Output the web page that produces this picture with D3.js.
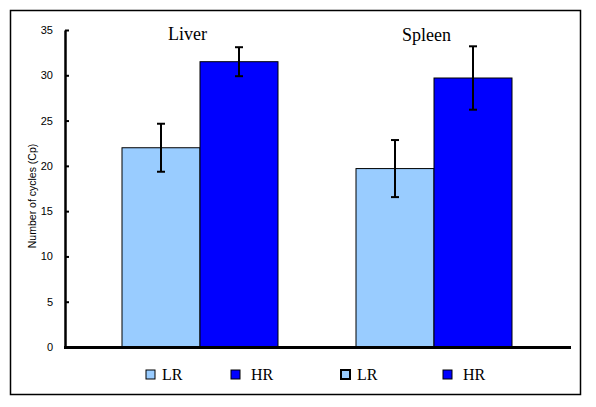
<!DOCTYPE html>
<html><head><meta charset="utf-8">
<script src="https://cdn.jsdelivr.net/npm/d3@7"></script>
<style>body{margin:0;background:#fff}svg{display:block}</style>
</head><body>
<svg id="c" width="596" height="407"></svg>
<script>
const groups = ["Liver", "Spleen"];
const series = ["LR", "HR"];
const lrValues = [22.0, 19.7];
const hrValues = [31.5, 29.7];
const lrErrors = [2.65, 3.15];
const hrErrors = [1.6, 3.5];
const yTicks = [0, 5, 10, 15, 20, 25, 30, 35];
const colors = {LR: "#99CCFF", HR: "#0000FF"};

(function () {
const svg = d3.select("#c");
// outer frame
svg.append("rect").attr("x", 10.5).attr("y", 10.5).attr("width", 570).attr("height", 384)
  .attr("fill", "none").attr("stroke", "#000").attr("stroke-width", 1.5);

const pLeft = 65, pRight = 571, pTop = 30, pBottom = 347;
const y = d3.scaleLinear().domain([0, 35]).range([pBottom, pTop]);
const xg = d3.scalePoint().domain(groups).range([200, 434]);
const barW = 78;
const x1 = d3.scaleBand().domain(series).range([-barW, barW]);

const data = groups.map((g, i) => ({
  group: g,
  bars: [
    {s: "LR", v: lrValues[i], e: lrErrors[i]},
    {s: "HR", v: hrValues[i], e: hrErrors[i]}
  ]
}));

const gg = svg.selectAll("g.grp").data(data).join("g").attr("class", "grp")
  .attr("transform", d => `translate(${xg(d.group)},0)`);

gg.selectAll("rect").data(d => d.bars).join("rect")
  .attr("x", d => x1(d.s)).attr("width", x1.bandwidth())
  .attr("y", d => y(d.v)).attr("height", d => y(0) - y(d.v))
  .attr("fill", d => colors[d.s]).attr("stroke", "#000").attr("stroke-width", 1);

const eb = gg.selectAll("g.eb").data(d => d.bars).join("g").attr("class", "eb")
  .attr("transform", d => `translate(${x1(d.s) + x1.bandwidth() / 2},0)`);
eb.append("line").attr("y1", d => y(d.v + d.e)).attr("y2", d => y(d.v - d.e))
  .attr("stroke", "#000").attr("stroke-width", 2);
eb.append("line").attr("x1", -4).attr("x2", 4).attr("y1", d => y(d.v + d.e)).attr("y2", d => y(d.v + d.e))
  .attr("stroke", "#000").attr("stroke-width", 2);
eb.append("line").attr("x1", -4).attr("x2", 4).attr("y1", d => y(d.v - d.e)).attr("y2", d => y(d.v - d.e))
  .attr("stroke", "#000").attr("stroke-width", 2);

gg.append("text").attr("x", -32).attr("y", (d, i) => i === 0 ? 40 : 41).attr("text-anchor", "start")
  .attr("font-family", "Liberation Serif, Times New Roman, serif").attr("font-size", 18)
  .text(d => d.group);

// y axis
const yAxis = d3.axisLeft(y).tickValues(yTicks).tickSizeInner(-4).tickSizeOuter(0).tickPadding(12);
const ya = svg.append("g").attr("transform", `translate(${pLeft},0)`).call(yAxis);
ya.select(".domain").attr("stroke-width", 2.5);
ya.selectAll(".tick line").attr("stroke-width", 2);
ya.selectAll("text").attr("font-family", "Liberation Sans, Arial, sans-serif").attr("font-size", 11).attr("fill", "#000");

// x axis line
svg.append("line").attr("x1", pLeft - 1).attr("x2", pRight).attr("y1", pBottom + 0.5).attr("y2", pBottom + 0.5)
  .attr("stroke", "#000").attr("stroke-width", 3);

// y label
svg.append("text").attr("transform", `translate(36,196) rotate(-90)`).attr("text-anchor", "middle")
  .attr("font-family", "Liberation Sans, Arial, sans-serif").attr("font-size", 10.5)
  .text("Number of cycles (Cp)");

// legend
const legendItems = [
  {s: "LR", x: 146, sw: 1}, {s: "HR", x: 231, sw: 1},
  {s: "LR", x: 341, sw: 2}, {s: "HR", x: 443, sw: 1}
];
const lg = svg.selectAll("g.lg").data(legendItems).join("g").attr("class", "lg")
  .attr("transform", d => `translate(${d.x},370)`);
lg.append("rect").attr("width", 9).attr("height", 9)
  .attr("fill", d => colors[d.s]).attr("stroke", "#000").attr("stroke-width", d => d.sw);
lg.append("text").attr("x", d => d.s === "LR" ? 16 : 20).attr("y", 10)
  .attr("font-family", "Liberation Serif, Times New Roman, serif").attr("font-size", 16)
  .text(d => d.s);
})();
</script>
</body></html>
